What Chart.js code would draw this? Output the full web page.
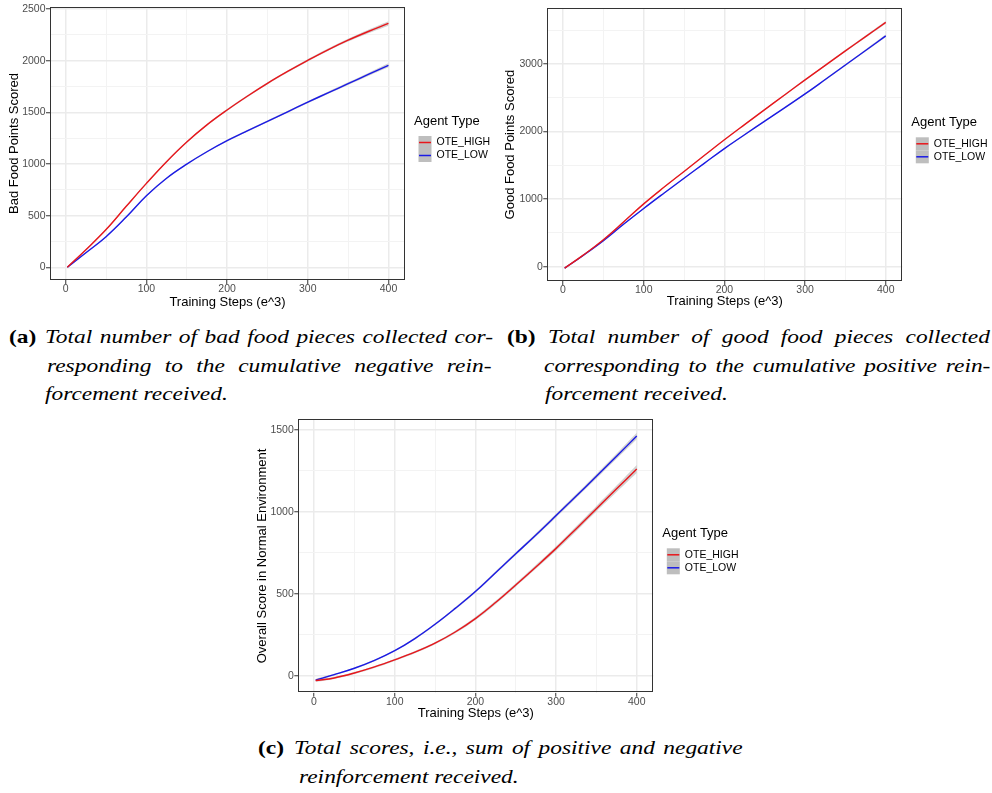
<!DOCTYPE html>
<html lang="en">
<head>
<meta charset="UTF-8">
<title>Agent Type - cumulative scores</title>
<script src="https://cdn.jsdelivr.net/npm/chart.js@4.4.1/dist/chart.umd.min.js"></script>
<style>
  body { margin: 0; background: #fff; width: 992px; height: 793px; position: relative; overflow: hidden; }
  canvas { position: absolute; }
  .cap { position: absolute; font-family: "Liberation Serif", "Times New Roman", serif; font-size: 19.5px;
         line-height: 20px; color: #000; transform-origin: 0 0; transform: scaleX(1.2); }
  .lbl { font-weight: bold; white-space: nowrap; }
  .ln { font-style: italic; text-align: justify; text-align-last: justify; }
  .ln.left { text-align: left; text-align-last: left; white-space: nowrap; }
</style>
</head>
<body>

<canvas id="chartBad" width="495" height="312" style="left:0px; top:0px"></canvas>
<canvas id="chartGood" width="497" height="312" style="left:495px; top:0px"></canvas>
<canvas id="chartScore" width="500" height="312" style="left:250px; top:410px"></canvas>

<!-- captions -->
<div class="cap lbl" style="left:9px; top:327.4px">(a)</div>
<div class="cap ln" style="left:45px; top:327.4px; width:373.3px">Total number of bad food pieces collected cor-</div>
<div class="cap ln" style="left:46.5px; top:355.9px; width:370.4px">responding to the cumulative negative rein-</div>
<div class="cap ln left" style="left:45px; top:384.4px">forcement received.</div>

<div class="cap lbl" style="left:506.5px; top:327.4px">(b)</div>
<div class="cap ln" style="left:548px; top:327.4px; width:368.3px">Total number of good food pieces collected</div>
<div class="cap ln" style="left:544px; top:355.9px; width:372px">corresponding to the cumulative positive rein-</div>
<div class="cap ln left" style="left:545px; top:384.4px">forcement received.</div>

<div class="cap lbl" style="left:258px; top:738px">(c)</div>
<div class="cap ln" style="left:293.5px; top:738px; width:373.8px">Total scores, i.e., sum of positive and negative</div>
<div class="cap ln left" style="left:298.5px; top:767px">reinforcement received.</div>

<script>
// training steps (e^3)
var steps = [2, 25, 50, 75, 100, 125, 150, 175, 200, 225, 250, 275, 300, 325, 350, 375, 400];
var agentTypes = ['OTE_HIGH', 'OTE_LOW'];
var agentColors = ['#e8161b', '#1a1ae6'];

// (a) bad food points
var badHigh = [0, 170, 365, 590, 812, 1022, 1212, 1378, 1522, 1655, 1780, 1895, 2003, 2105, 2198, 2282, 2360];
var badLow  = [0, 140, 296, 486, 692, 862, 998, 1118, 1225, 1320, 1412, 1505, 1598, 1688, 1777, 1866, 1955];
var badBandHigh = [10, 8, 8, 8, 8, 8, 8, 8, 9, 9, 10, 10, 11, 12, 14, 17, 22];
var badBandLow  = [8, 7, 7, 7, 7, 7, 7, 7, 8, 8, 8, 9, 10, 11, 13, 15, 20];

// (b) good food points
var goodHigh = [-20, 172, 400, 662, 930, 1175, 1410, 1645, 1878, 2103, 2325, 2545, 2765, 2980, 3195, 3405, 3615];
var goodLow  = [-20, 167, 385, 628, 862, 1088, 1310, 1530, 1748, 1953, 2155, 2355, 2557, 2770, 2985, 3200, 3415];
var goodBandHigh = [12, 10, 10, 10, 10, 10, 10, 10, 10, 10, 11, 11, 12, 13, 14, 16, 20];
var goodBandLow  = [12, 10, 10, 10, 10, 10, 10, 10, 10, 10, 11, 11, 12, 13, 14, 16, 20];

// (c) overall score
var scoreHigh = [-28, -12, 18, 55, 98, 145, 200, 268, 350, 448, 555, 665, 778, 898, 1020, 1141, 1262];
var scoreLow  = [-25, 8, 47, 95, 154, 228, 315, 412, 515, 630, 745, 860, 978, 1097, 1218, 1340, 1463];
var scoreBandHigh = [8, 6, 6, 6, 6, 7, 7, 8, 9, 10, 11, 12, 13, 15, 17, 20, 25];
var scoreBandLow  = [7, 5, 5, 5, 5, 6, 6, 7, 7, 8, 9, 10, 11, 12, 14, 16, 20];

// ticks (grid) and labelled ticks
var xTicks = [0, 50, 100, 150, 200, 250, 300, 350, 400];
var xLabels = [0, 100, 200, 300, 400];
var badTicks = [0, 250, 500, 750, 1000, 1250, 1500, 1750, 2000, 2250, 2500];
var badLabels = [0, 500, 1000, 1500, 2000, 2500];
var goodTicks = [0, 500, 1000, 1500, 2000, 2500, 3000, 3500];
var goodLabels = [0, 1000, 2000, 3000];
var scoreTicks = [0, 250, 500, 750, 1000, 1250, 1500];
var scoreLabels = [0, 500, 1000, 1500];

var FONT = '"Liberation Sans", Arial, Helvetica, sans-serif';

var panelPlugin = {
  id: 'panel',
  afterDraw: function(chart) {
    var ctx = chart.ctx, a = chart.chartArea;
    ctx.save();
    ctx.strokeStyle = '#333';
    ctx.lineWidth = 1;
    ctx.strokeRect(Math.round(a.left) + 0.5, Math.round(a.top) + 0.5,
                   Math.round(a.right - a.left) - 1, Math.round(a.bottom - a.top) - 1);

    // legend
    ctx.fillStyle = '#000';
    ctx.font = '13px ' + FONT;
    ctx.textBaseline = 'alphabetic';
    ctx.fillText('Agent Type', a.right + 9, a.top + 118);
    for (var i = 0; i < agentTypes.length; i++) {
      var bx = a.right + 13.5, by = a.top + 129 + i * 13;
      ctx.fillStyle = '#bebebe';
      ctx.fillRect(bx, by, 13, 13);
      ctx.strokeStyle = agentColors[i];
      ctx.lineWidth = 1.5;
      ctx.beginPath();
      ctx.moveTo(bx + 0.5, by + 6.5);
      ctx.lineTo(bx + 12.5, by + 6.5);
      ctx.stroke();
      ctx.fillStyle = '#000';
      ctx.font = '10.5px ' + FONT;
      ctx.textBaseline = 'middle';
      ctx.fillText(agentTypes[i], a.right + 31.5, by + 6.5);
    }
    ctx.restore();
  }
};

function makeChart(id, o) {
  var pts = function(ys) { return steps.map(function(x, i) { return {x: x, y: ys[i]}; }); };
  var band = function(ys, w, s) { return steps.map(function(x, i) { return {x: x, y: ys[i] + s * w[i]}; }); };
  var line = function(ys, i) {
    return { label: agentTypes[i], data: pts(ys), borderColor: agentColors[i], borderWidth: 1.4,
             fill: false, pointRadius: 0, tension: 0.4 };
  };
  var rib = function(data, fill) {
    return { data: data, fill: fill, borderWidth: 0, borderColor: 'rgba(0,0,0,0)', pointRadius: 0,
             backgroundColor: 'rgba(153,153,153,0.45)', tension: 0.4 };
  };

  var major = function(list) { return function(c) { return list.indexOf(c.tick.value) >= 0; }; };
  var isX = major(xLabels), isY = major(o.yLabels);

  new Chart(document.getElementById(id), {
    type: 'line',
    data: {
      datasets: [
        line(o.high, 0),
        line(o.low, 1),
        rib(band(o.high, o.bandHigh, 1), 3),
        rib(band(o.high, o.bandHigh, -1), false),
        rib(band(o.low, o.bandLow, 1), 5),
        rib(band(o.low, o.bandLow, -1), false)
      ]
    },
    options: {
      responsive: false,
      animation: false,
      devicePixelRatio: 1,
      layout: { padding: o.pad },
      plugins: { legend: { display: false }, tooltip: { enabled: false } },
      scales: {
        x: {
          type: 'linear', min: -19.5, max: 420.5,
          afterBuildTicks: function(s) { s.ticks = xTicks.map(function(v) { return {value: v}; }); },
          afterFit: function(s) { s.height = o.xHeight; },
          border: { display: false },
          grid: {
            color: function(c) { return isX(c) ? '#ebebeb' : '#f3f3f3'; },
            lineWidth: function(c) { return isX(c) ? 1.5 : 1; },
            tickLength: 4, tickWidth: 1,
            tickColor: function(c) { return isX(c) ? '#333' : 'rgba(0,0,0,0)'; }
          },
          ticks: {
            autoSkip: false, maxRotation: 0, padding: 0, color: '#4d4d4d',
            font: { family: FONT, size: 10.5, lineHeight: 1 },
            callback: function(v) { return xLabels.indexOf(v) >= 0 ? String(v) : ''; }
          },
          title: { display: true, text: 'Training Steps (e^3)', color: '#000',
                   font: { family: FONT, size: 13, lineHeight: 1.2 }, padding: { top: 0, bottom: o.xTitlePad } }
        },
        y: {
          type: 'linear', min: o.yMin, max: o.yMax,
          afterBuildTicks: function(s) { s.ticks = o.yTicks.map(function(v) { return {value: v}; }); },
          afterFit: function(s) { s.width = o.yWidth; },
          border: { display: false },
          grid: {
            color: function(c) { return isY(c) ? '#ebebeb' : '#f3f3f3'; },
            lineWidth: function(c) { return isY(c) ? 1.5 : 1; },
            tickLength: 4, tickWidth: 1,
            tickColor: function(c) { return isY(c) ? '#333' : 'rgba(0,0,0,0)'; }
          },
          ticks: {
            autoSkip: false, padding: 0.5, color: '#4d4d4d',
            font: { family: FONT, size: 10.5, lineHeight: 1 },
            callback: function(v) { return o.yLabels.indexOf(v) >= 0 ? String(v) : ''; }
          },
          title: { display: true, text: o.yTitle, color: '#000',
                   font: { family: FONT, size: 13, lineHeight: 1.2 }, padding: { top: o.yTitlePad, bottom: 0 } }
        }
      }
    },
    plugins: [panelPlugin]
  });
}

makeChart('chartBad', {
  high: badHigh, low: badLow, bandHigh: badBandHigh, bandLow: badBandLow,
  yMin: -123, yMax: 2519, yTicks: badTicks, yLabels: badLabels, yTitle: 'Bad Food Points Scored',
  pad: { left: 0, top: 7, right: 90, bottom: 0 }, yWidth: 50, xHeight: 32, yTitlePad: 6.2, xTitlePad: 2.2
});

makeChart('chartGood', {
  high: goodHigh, low: goodLow, bandHigh: goodBandHigh, bandLow: goodBandLow,
  yMin: -211, yMax: 3824, yTicks: goodTicks, yLabels: goodLabels, yTitle: 'Good Food Points Scored',
  pad: { left: 0, top: 8.3, right: 89.7, bottom: 0 }, yWidth: 52.3, xHeight: 31, yTitlePad: 7.9, xTitlePad: 2.5
});

makeChart('chartScore', {
  high: scoreHigh, low: scoreLow, bandHigh: scoreBandHigh, bandLow: scoreBandLow,
  yMin: -102, yMax: 1565, yTicks: scoreTicks, yLabels: scoreLabels, yTitle: 'Overall Score in Normal Environment',
  pad: { left: 0, top: 9.3, right: 96.7, bottom: 0 }, yWidth: 48.3, xHeight: 29.3, yTitlePad: 4.9, xTitlePad: 1.2
});
</script>
</body>
</html>
